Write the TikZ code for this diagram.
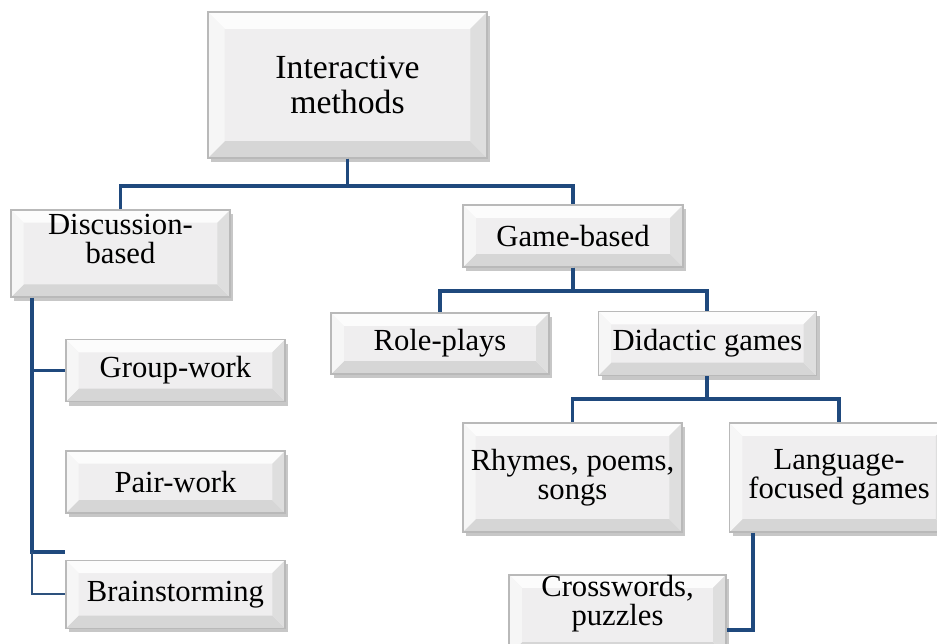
\documentclass[tikz,border=0pt]{standalone}
\usepackage{fontspec}
\setmainfont{Liberation Serif}
\usepackage{xcolor}
\usepackage{tikz}
\usetikzlibrary{positioning, shadows}

\definecolor{linkblue}{RGB}{31,73,125}
\definecolor{boxface}{RGB}{239,238,239}
\definecolor{bevtop}{RGB}{252,252,252}
\definecolor{bevleft}{RGB}{246,246,246}
\definecolor{bevright}{RGB}{222,222,222}
\definecolor{bevbot}{RGB}{214,214,214}

\begin{document}
\begin{tikzpicture}[
    every node/.style={font=\fontsize{10.9}{10.4}\selectfont},
    bevel/.style={path picture={
        \coordinate (pnw) at (path picture bounding box.north west);
        \coordinate (pne) at (path picture bounding box.north east);
        \coordinate (psw) at (path picture bounding box.south west);
        \coordinate (pse) at (path picture bounding box.south east);
        \fill[bevtop] (pnw) -- (pne) -- ([shift={(-#1,-#1)}]pne) -- ([shift={(#1,-#1)}]pnw) -- cycle;
        \fill[bevbot] (psw) -- (pse) -- ([shift={(-#1,#1)}]pse) -- ([shift={(#1,#1)}]psw) -- cycle;
        \fill[bevleft] (pnw) -- (psw) -- ([shift={(#1,#1)}]psw) -- ([shift={(#1,-#1)}]pnw) -- cycle;
        \fill[bevright] (pne) -- (pse) -- ([shift={(-#1,#1)}]pse) -- ([shift={(-#1,-#1)}]pne) -- cycle;
    }},
    bevel/.default=0.16cm,
    box/.style={rectangle, draw=gray!55, line width=0.5pt, fill=boxface, bevel,
        drop shadow={shadow xshift=0.04cm, shadow yshift=-0.05cm, fill=black, opacity=0.22},
        minimum width=2.74cm, minimum height=0.775cm, inner sep=0pt, align=center},
    mainbox/.style={box, bevel=0.21cm, minimum width=3.49cm, minimum height=1.825cm,
        font=\fontsize{12}{12.6}\selectfont},
    link/.style={draw=linkblue, line width=1.4pt},
    thinlink/.style={draw=linkblue!85!gray, line width=0.6pt}
]
\useasboundingbox (0,0) rectangle (11.7125,-8.05);

\node (top) [mainbox] at (4.344,-1.0625) {Interactive\\methods};
\node (disc) [box, minimum height=1.09cm] at (1.506,-3.169) {Discussion-\\based\\\mbox{}};
\node (grp) [box, below=0.5125cm of disc, xshift=0.6875cm] {Group-work};
\node (pair) [box, below=0.6cm of grp] {Pair-work};
\node (brain) [box, below=0.575cm of pair, minimum height=0.85cm] {Brainstorming};
\node (game) [box, minimum width=2.75cm] at (7.1625,-2.95) {Game-based};
\node (role) [box, minimum width=2.725cm, minimum height=0.7625cm] at (5.5,-4.294) {Role-plays};
\node (did) [box, right=0.6cm of role, minimum width=2.725cm, minimum height=0.8cm] {Didactic games};
\node (rhy) [box, minimum height=1.3625cm] at (7.156,-5.969) {Rhymes, poems,\\songs};
\node (lang) [box, right=0.575cm of rhy, minimum height=1.3625cm] {Language-\\focused games};
\node (cross) [box, minimum width=2.71cm, minimum height=1cm] at (7.719,-7.6875) {Crosswords,\\puzzles\\\mbox{}};

\draw [link] (top.south) -- ++(0,-0.34) -| (disc.north);
\draw [link] (top.south) -- ++(0,-0.34) -| (game.north);
\draw [link] (game.south) -- ++(0,-0.29) -| (role.north);
\draw [link] (game.south) -- ++(0,-0.29) -| (did.north);
\draw [link] (did.south) -- ++(0,-0.29) -| (rhy.north);
\draw [link] (did.south) -- ++(0,-0.29) -| (lang.north);
\coordinate (dtrunk) at ([xshift=0.275cm]disc.south west);
\draw [link] (dtrunk) |- (grp.west);
\draw [link] (dtrunk) |- ([yshift=0.1cm]brain.north west) coordinate[pos=0.5] (bjoin);
\draw [thinlink] (bjoin) |- (brain.west);
\draw [link] ([xshift=0.3cm]lang.south west) |- ([yshift=-0.1875cm]cross.east);
\end{tikzpicture}
\end{document}
